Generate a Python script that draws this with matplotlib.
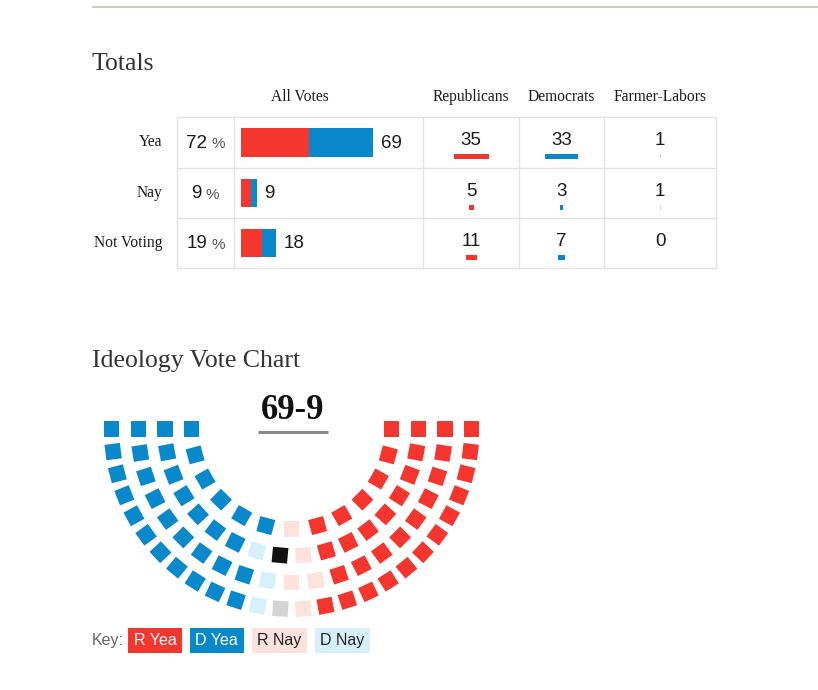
import matplotlib
matplotlib.use('Agg')
import matplotlib.pyplot as plt
from matplotlib.patches import Rectangle
from matplotlib.transforms import Affine2D
import numpy as np

# ---------------- data ----------------
outcomes = ['Yea', 'Nay', 'Not Voting']
pct = [72, 9, 19]
totals = [69, 9, 18]
rep = [35, 5, 11]
dem = [33, 3, 7]
fl = [1, 1, 0]
parties = ['Republicans', 'Democrats', 'Farmer-Labors']
final_score = '69-9'

# seats per hemicycle row (inner -> outer), listed left to right by category
seat_categories = ['D Yea', 'D Nay', 'FL Yea', 'FL Nay', 'R Nay', 'R Yea']
row_dyea = [6, 7, 9, 11]
row_dnay = [0, 1, 1, 1]
row_flyea = [0, 1, 0, 0]
row_flnay = [0, 0, 0, 1]
row_rnay = [1, 1, 2, 1]
row_ryea = [6, 8, 9, 12]
key_labels = ['R Yea', 'D Yea', 'R Nay', 'D Nay']

# ---------------- style ----------------
RED = '#f4362f'
BLUE = '#0a88cc'
PALE_RED = '#fde2dd'
PALE_BLUE = '#d7f0fc'
FL_YEA = '#121212'
FL_NAY = '#d4d4d4'
cat_colors = {'D Yea': BLUE, 'D Nay': PALE_BLUE, 'FL Yea': FL_YEA,
              'FL Nay': FL_NAY, 'R Nay': PALE_RED, 'R Yea': RED}
GRID = '#e4e4e4'
TXT = '#1a1a1a'
SERIF = ['Liberation Serif', 'DejaVu Serif']
SANS = ['Liberation Sans', 'DejaVu Sans']

W, H = 818, 690
fig = plt.figure(figsize=(W / 100, H / 100), dpi=100)
ax = fig.add_axes([0, 0, 1, 1])
ax.set_xlim(0, W)
ax.set_ylim(H, 0)
ax.axis('off')
renderer = fig.canvas.get_renderer()

def text_width(t):
    bb = t.get_window_extent(renderer=renderer)
    return bb.width

# top rule
ax.plot([92, 818], [7, 7], color='#c9c9b9', lw=1.3, solid_capstyle='butt')

# ---------------- Totals table ----------------
ax.text(92, 64.5, 'Totals', family=SERIF, fontsize=18.5, color='#333333',
        ha='left', va='center')

col_x = [177, 234, 423, 519, 604, 716]
row_y = [117, 168, 218, 268]
row_c = [(row_y[i] + row_y[i + 1]) / 2 for i in range(3)]

# grid
for x in col_x:
    ax.plot([x, x], [row_y[0], row_y[-1]], color=GRID, lw=1)
for y in row_y:
    ax.plot([col_x[0], col_x[-1]], [y, y], color=GRID, lw=1)

# headers
ax.text(300, 97, 'All Votes', family=SERIF, fontsize=11.2, color=TXT,
        ha='center', va='center')
party_cx = [(col_x[i] + col_x[i + 1]) / 2 for i in range(2, 5)]
for cx, p in zip(party_cx, parties):
    ax.text(cx, 97, p, family=SERIF, fontsize=11.2, color=TXT,
            ha='center', va='center')

# row labels
for yc, lab in zip(row_c, outcomes):
    ax.text(162, yc, lab, family=SERIF, fontsize=11.2, color=TXT,
            ha='right', va='center')

# percentages (number + small %), centred in column
pcx = (col_x[0] + col_x[1]) / 2
for yc, p in zip(row_c, pct):
    t1 = ax.text(0, yc + 1, f'{p}', family=SANS, fontsize=13.5, color=TXT,
                 ha='left', va='center')
    t2 = ax.text(0, yc + 2, '%', family=SANS, fontsize=11, color='#555555',
                 ha='left', va='center')
    w1 = text_width(t1)
    w2 = text_width(t2)
    gap = 4
    total = w1 + gap + w2
    x0 = pcx - total / 2
    t1.set_x(x0)
    t2.set_x(x0 + w1 + gap)

# All votes stacked bars
px_per_vote = 1.94
bar_left = 241
for yc, r, d, tot in zip(row_c, rep, dem, totals):
    ax.barh(yc, r * px_per_vote, left=bar_left, height=28.5, color=RED,
            linewidth=0)
    ax.barh(yc, d * px_per_vote, left=bar_left + r * px_per_vote,
            height=28.5, color=BLUE, linewidth=0)
    end = bar_left + (r + d) * px_per_vote
    ax.text(end + 8, yc + 1, f'{tot}', family=SANS, fontsize=13.5,
            color=TXT, ha='left', va='center')

# party columns: number + small bar (1 px per vote)
party_vals = [rep, dem, fl]
party_cols = [RED, BLUE, '#dcdcdc']
for cx, vals, c in zip(party_cx, party_vals, party_cols):
    for yc, v in zip(row_c, vals):
        ax.text(cx, yc - 2, f'{v}', family=SANS, fontsize=13.5, color=TXT,
                ha='center', va='center')
        if v > 0:
            ax.barh(yc + 14, v, left=cx - v / 2, height=5, color=c,
                    linewidth=0)

# ---------------- Ideology vote chart ----------------
ax.text(92, 360.5, 'Ideology Vote Chart', family=SERIF, fontsize=18.5,
        color='#333333', ha='left', va='center')

hcx, hcy = 291.7, 429
radii = [100, 126.7, 153.3, 180]
sq = 15.5
rows = [row_dyea, row_dnay, row_flyea, row_flnay, row_rnay, row_ryea]
for ri, r in enumerate(radii):
    seats = []
    for cat, counts in zip(seat_categories, rows):
        seats += [cat] * counts[ri]
    n = len(seats)
    for i, cat in enumerate(seats):
        a = 180 - i * 180 / (n - 1)
        x = hcx + r * np.cos(np.radians(a))
        y = hcy + r * np.sin(np.radians(a))
        rect = Rectangle((-sq / 2, -sq / 2), sq, sq, color=cat_colors[cat],
                         linewidth=0)
        rect.set_transform(Affine2D().rotate_deg(a).translate(x, y)
                           + ax.transData)
        ax.add_patch(rect)

# score
ax.text(292.5, 410.5, final_score, family=SERIF, fontsize=25,
        fontweight='bold', color='#111111', ha='center', va='center')
ax.plot([257.5, 327.5], [432, 432], color='#888888', lw=2.2,
        solid_capstyle='butt')

# ---------------- Key ----------------
ky = 640.5
ax.text(92, ky, 'Key:', family=SANS, fontsize=11.5, color='#666666',
        ha='left', va='center')
key_fc = [RED, BLUE, PALE_RED, PALE_BLUE]
key_tc = ['white', 'white', '#222222', '#222222']
x = 128
for lab, fc, tc in zip(key_labels, key_fc, key_tc):
    t = ax.text(0, ky, lab, family=SANS, fontsize=11.5, color=tc,
                ha='center', va='center', zorder=3)
    w = text_width(t) + 11
    ax.add_patch(Rectangle((x, ky - 12.5), w, 25, color=fc, linewidth=0,
                           zorder=2))
    t.set_x(x + w / 2)
    x += w + 8

fig.savefig('out.png', dpi=100, facecolor='white')
